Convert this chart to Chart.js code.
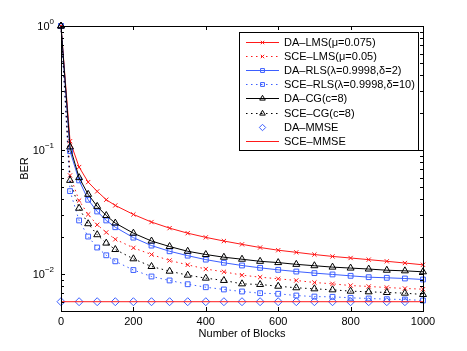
<!DOCTYPE html>
<html>
<head>
<meta charset="utf-8">
<script src="https://cdn.jsdelivr.net/npm/chart.js@4/dist/chart.umd.min.js"></script>
<style>
  html, body { margin: 0; padding: 0; background: #fff; }
</style>
</head>
<body>
<canvas id="grafico" width="467" height="351"></canvas>
<script>
// blocks where the adaptive curves were sampled
const blocks = [0, 25, 50, 75, 100, 125, 150, 200, 250, 300, 350, 400, 450, 500, 550, 600, 650, 700, 750, 800, 850, 900, 950, 1000];

const daLms  = [1, 0.118, 0.073, 0.0552, 0.0465, 0.0398, 0.0358, 0.0303, 0.0263, 0.0235, 0.0214, 0.0198, 0.0185, 0.0174, 0.0164, 0.0156, 0.0150, 0.0144, 0.0139, 0.0135, 0.0131, 0.0127, 0.0123, 0.0119];
const sceLms = [1, 0.0625, 0.0392, 0.0303, 0.0250, 0.0217, 0.0191, 0.0163, 0.0144, 0.0129, 0.0119, 0.0110, 0.01045, 0.00982, 0.00946, 0.00918, 0.0089, 0.00857, 0.00836, 0.0081, 0.00796, 0.00781, 0.00767, 0.00757];
const daRls  = [1, 0.098, 0.057, 0.0398, 0.032, 0.0271, 0.0239, 0.0197, 0.0170, 0.0153, 0.0141, 0.0131, 0.01236, 0.01175, 0.01125, 0.01084, 0.0105, 0.0102, 0.00995, 0.0097, 0.00946, 0.00935, 0.00923, 0.00906];
const sceRls = [1, 0.0467, 0.0271, 0.0201, 0.0164, 0.0142, 0.0127, 0.0108, 0.00958, 0.0089, 0.0083, 0.00785, 0.00753, 0.00725, 0.00703, 0.00695, 0.00673, 0.0066, 0.00657, 0.00645, 0.00637, 0.00629, 0.00625, 0.00614];
const daCg   = [1, 0.106, 0.060, 0.044, 0.0352, 0.0297, 0.0258, 0.0214, 0.0185, 0.0167, 0.0153, 0.0144, 0.0137, 0.0132, 0.0127, 0.0124, 0.0120, 0.0117, 0.0114, 0.0112, 0.0110, 0.01076, 0.01064, 0.01045];
const sceCg  = [1, 0.057, 0.034, 0.0255, 0.0208, 0.0178, 0.0158, 0.0133, 0.01153, 0.01057, 0.00982, 0.00929, 0.0089, 0.00836, 0.00826, 0.008, 0.00777, 0.00762, 0.00748, 0.0073, 0.00721, 0.00712, 0.00703, 0.00686];

// MMSE bounds
const mmseBlocks = [0, 50, 100, 150, 200, 250, 300, 350, 400, 450, 500, 550, 600, 650, 700, 750, 800, 850, 900, 950];
const daMmse  = [0.006, 0.006, 0.006, 0.006, 0.006, 0.006, 0.006, 0.006, 0.006, 0.006, 0.006, 0.006, 0.006, 0.006, 0.006, 0.006, 0.006, 0.006, 0.006, 0.006];
const sceMmseBlocks = [0, 1000];
const sceMmse = [0.006, 0.006];

const xTicks = [0, 200, 400, 600, 800, 1000];
const yTicks = [0.006, 0.007, 0.008, 0.009, 0.01, 0.02, 0.03, 0.04, 0.05, 0.06, 0.07, 0.08, 0.09,
                0.1, 0.2, 0.3, 0.4, 0.5, 0.6, 0.7, 0.8, 0.9, 1];

const labels = ["DA\u2013LMS(\u03bc=0.075)", "SCE\u2013LMS(\u03bc=0.05)", "DA\u2013RLS(\u03bb=0.9998,\u03b4=2)",
                "SCE\u2013RLS(\u03bb=0.9998,\u03b4=10)", "DA\u2013CG(c=8)", "SCE\u2013CG(c=8)", "DA\u2013MMSE", "SCE\u2013MMSE"];

const RED = "rgb(255,25,25)";
const BLUE = "rgb(60,95,255)";
const BLACK = "#000";
const DOT = [1.5, 3.5];

function pts(xs, ys) {
  return xs.map((x, i) => ({ x: x, y: ys[i] }));
}

function serie(i, xs, ys, color, dash, style, radius, line) {
  return {
    label: labels[i],
    data: pts(xs, ys),
    borderColor: color,
    borderWidth: 1,
    borderDash: dash,
    showLine: line,
    pointStyle: style,
    pointRadius: radius,
    pointBorderColor: color,
    pointBackgroundColor: "rgba(0,0,0,0)",
    pointBorderWidth: 1,
    fill: false,
    tension: 0,
    clip: false,
    order: 10 - i
  };
}

const datasets = [
  serie(0, blocks, daLms, RED, [], "crossRot", 3, true),
  serie(1, blocks, sceLms, RED, DOT, "crossRot", 3, true),
  serie(2, blocks, daRls, BLUE, [], "rect", 3.4, true),
  serie(3, blocks, sceRls, BLUE, DOT, "rect", 3.4, true),
  serie(4, blocks, daCg, BLACK, [], "triangle", 4, true),
  serie(5, blocks, sceCg, BLACK, DOT, "triangle", 4, true),
  serie(6, mmseBlocks, daMmse, BLUE, [], "rectRot", 4, false),
  serie(7, sceMmseBlocks, sceMmse, RED, [], false, 0, true)
];

function drawMarker(ctx, style, x, y, r) {
  ctx.beginPath();
  if (style === "crossRot") {
    const d = r * Math.SQRT1_2;
    ctx.moveTo(x - d, y - d); ctx.lineTo(x + d, y + d);
    ctx.moveTo(x - d, y + d); ctx.lineTo(x + d, y - d);
  } else if (style === "rect") {
    const s = r * Math.SQRT1_2;
    ctx.rect(x - s, y - s, 2 * s, 2 * s);
  } else if (style === "triangle") {
    ctx.moveTo(x, y - r);
    ctx.lineTo(x + r * 0.866, y + r * 0.5);
    ctx.lineTo(x - r * 0.866, y + r * 0.5);
    ctx.closePath();
  } else if (style === "rectRot") {
    ctx.moveTo(x, y - r); ctx.lineTo(x + r, y); ctx.lineTo(x, y + r); ctx.lineTo(x - r, y);
    ctx.closePath();
  } else {
    return;
  }
  ctx.stroke();
}

const bgPlugin = {
  id: "fundo",
  beforeDraw(chart) {
    const ctx = chart.ctx;
    ctx.save();
    ctx.fillStyle = "#fff";
    ctx.fillRect(0, 0, chart.width, chart.height);
    ctx.restore();
  }
};

// box, inward ticks and 10^n labels, matlab style
const axesPlugin = {
  id: "eixos",
  afterDatasetsDraw(chart) {
    const ctx = chart.ctx;
    const a = chart.chartArea;
    const xs = chart.scales.x, ys = chart.scales.y;
    ctx.save();
    ctx.strokeStyle = "#000";
    ctx.lineWidth = 1;
    ctx.setLineDash([]);
    ctx.strokeRect(Math.round(a.left) + 0.5, Math.round(a.top) + 0.5,
                   Math.round(a.right - a.left), Math.round(a.bottom - a.top));
    ctx.beginPath();
    xTicks.forEach(v => {
      const px = Math.round(xs.getPixelForValue(v)) + 0.5;
      ctx.moveTo(px, a.bottom); ctx.lineTo(px, a.bottom - 4);
      ctx.moveTo(px, a.top); ctx.lineTo(px, a.top + 4);
    });
    yTicks.forEach(v => {
      const py = Math.round(ys.getPixelForValue(v)) + 0.5;
      const major = Math.abs(Math.log10(v) - Math.round(Math.log10(v))) < 1e-9;
      const len = major ? 4 : 3;
      ctx.moveTo(a.left, py); ctx.lineTo(a.left + len, py);
      ctx.moveTo(a.right, py); ctx.lineTo(a.right - len, py);
    });
    ctx.stroke();

    ctx.fillStyle = "#000";
    ctx.textBaseline = "middle";
    yTicks.forEach(v => {
      const e = Math.log10(v);
      if (Math.abs(e - Math.round(e)) > 1e-9) return;
      const py = ys.getPixelForValue(v);
      const exp = String(Math.round(e)).replace("-", "\u2212");
      ctx.font = "8px 'Liberation Sans', Arial, sans-serif";
      ctx.textAlign = "right";
      const xr = a.left - 7;
      ctx.fillText(exp, xr, py - 4);
      const ew = ctx.measureText(exp).width;
      ctx.font = "11px 'Liberation Sans', Arial, sans-serif";
      ctx.fillText("10", xr - ew, py + 0.5);
    });
    ctx.restore();
  }
};

const legendPlugin = {
  id: "legenda",
  afterDraw(chart) {
    const ctx = chart.ctx;
    const a = chart.chartArea;
    const w = 179, h = 118;
    const left = Math.round(a.right - 5 - w), top = Math.round(a.top + 6);
    ctx.save();
    ctx.fillStyle = "#fff";
    ctx.fillRect(left, top, w, h);
    ctx.strokeStyle = "#000";
    ctx.lineWidth = 1;
    ctx.strokeRect(left + 0.5, top + 0.5, w, h);
    chart.data.datasets.forEach((ds, i) => {
      const y = Math.round(top + 10 + i * 14.1) + 0.5;
      ctx.strokeStyle = ds.borderColor;
      ctx.lineWidth = 1;
      if (ds.showLine) {
        ctx.setLineDash(ds.borderDash);
        ctx.beginPath();
        ctx.moveTo(left + 7, y);
        ctx.lineTo(left + 40, y);
        ctx.stroke();
      }
      ctx.setLineDash([]);
      if (ds.pointRadius > 0) {
        drawMarker(ctx, ds.pointStyle, left + 23.5, y, ds.pointRadius * 0.8);
      }
      ctx.fillStyle = "#000";
      ctx.font = "11px 'Liberation Sans', Arial, sans-serif";
      ctx.textAlign = "left";
      ctx.textBaseline = "middle";
      ctx.fillText(ds.label, left + 45, y);
    });
    ctx.restore();
  }
};

Chart.defaults.font.family = "'Liberation Sans', Arial, sans-serif";
Chart.defaults.font.size = 11;
Chart.defaults.color = "#000";

const ctx = document.getElementById("grafico").getContext("2d");
new Chart(ctx, {
  type: "line",
  data: { datasets: datasets },
  options: {
    responsive: false,
    animation: false,
    events: [],
    layout: { padding: { left: 0, right: 44, top: 26, bottom: 0 } },
    plugins: { legend: { display: false }, tooltip: { enabled: false } },
    scales: {
      x: {
        type: "linear",
        min: 0,
        max: 1000,
        afterBuildTicks: s => { s.ticks = xTicks.map(v => ({ value: v })); },
        afterFit: s => { s.height = 40; },
        grid: { display: false, drawTicks: false },
        border: { display: false },
        ticks: { padding: 4, maxRotation: 0, autoSkip: false, font: { size: 11 },
                 callback: v => String(v) },
        title: { display: true, text: "Number of Blocks", font: { size: 11 }, padding: { top: 0, bottom: 10 } }
      },
      y: {
        type: "logarithmic",
        min: 0.00505,
        max: 1,
        afterBuildTicks: s => { s.ticks = yTicks.map(v => ({ value: v })); },
        afterFit: s => { s.width = 61; },
        grid: { display: false, drawTicks: false },
        border: { display: false },
        ticks: { display: false },
        title: { display: true, text: "BER", font: { size: 11 }, padding: { top: 18, bottom: 0 } }
      }
    }
  },
  plugins: [bgPlugin, axesPlugin, legendPlugin]
});
</script>
</body>
</html>
